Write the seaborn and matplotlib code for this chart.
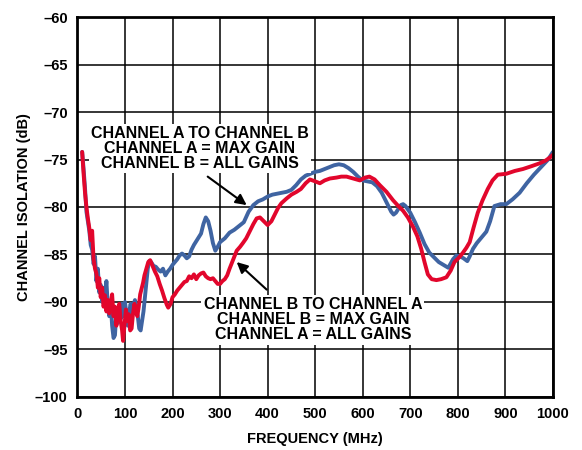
import matplotlib
matplotlib.use("Agg")
import matplotlib.pyplot as plt
import pandas as pd
import seaborn as sns

# frequency (MHz) / isolation (dB)
freq_ab = [10, 13, 16, 19, 22, 25, 28, 31, 34, 37, 40, 43, 46, 49, 52, 55, 58, 61, 64, 67,
           70, 73, 76, 79, 82, 85, 88, 91, 94, 97, 100, 103, 106, 109, 112, 115, 118, 121, 124, 127,
           130, 133, 136, 139, 142, 145, 148, 151, 155, 160, 165, 170, 175, 180, 185, 190, 195, 200,
           205, 210, 215, 220, 225, 230, 235, 240, 245, 250, 255, 260, 265, 270, 275, 280, 285, 290,
           295, 300, 310, 320, 330, 340, 350, 360, 370, 380, 390, 400, 410, 420, 430, 440, 450, 460,
           470, 480, 490, 500, 510, 520, 530, 540, 550, 560, 570, 580, 590, 600, 610, 620, 630, 640,
           650, 660, 665, 670, 680, 685, 690, 700, 710, 720, 730, 740, 750, 760, 770, 780, 790, 797,
           805, 812, 820, 825, 832, 840, 850, 860, 868, 877, 890, 902, 915, 930, 945, 960, 975, 990, 1000]
iso_ab = [-74.2, -76.0, -78.0, -80.5, -81.5, -82.5, -84.0, -84.5, -86.0, -85.2, -87.8, -86.5, -89.0,
          -88.2, -90.0, -88.5, -89.5, -87.8, -90.5, -91.5, -90.0, -92.5, -93.8, -93.5, -91.0, -92.2,
          -90.5, -91.8, -90.2, -91.5, -90.0, -91.2, -92.5, -91.0, -90.2, -91.5, -90.3, -89.8, -90.5,
          -91.5, -92.8, -93.0, -92.0, -91.0, -89.5, -88.0, -86.5, -85.7, -85.8, -86.2, -86.3, -86.6,
          -86.8, -86.5, -87.2, -86.8, -86.5, -86.1, -85.8, -85.5, -85.1, -84.9, -85.1, -85.4, -85.2,
          -84.5, -84.0, -83.6, -83.2, -82.8, -81.8, -81.1, -81.5, -82.5, -83.8, -84.6, -84.2, -83.7,
          -83.3, -82.7, -82.4, -82.0, -81.6, -80.5, -79.8, -79.4, -79.2, -78.9, -78.7, -78.6, -78.5,
          -78.4, -78.2, -77.7, -77.1, -76.7, -76.5, -76.3, -76.2, -76.0, -75.8, -75.6, -75.5, -75.6,
          -75.9, -76.3, -76.8, -77.2, -77.3, -77.4, -77.8, -78.5, -79.5, -80.5, -80.8, -80.6, -79.8,
          -79.7, -79.9, -80.6, -81.6, -82.7, -83.9, -84.8, -85.3, -85.8, -86.1, -86.4, -85.5, -85.1,
          -85.2, -85.4, -85.7, -85.2, -84.4, -83.8, -83.2, -82.6, -81.5, -79.9, -79.7, -79.7, -79.2,
          -78.5, -77.5, -76.6, -75.8, -75.0, -74.2]

freq_ba = [10, 13, 16, 19, 22, 25, 28, 31, 34, 37, 40, 43, 46, 49, 52, 55, 58, 61, 64, 67,
           70, 73, 76, 79, 82, 85, 88, 91, 94, 96, 99, 102, 105, 108, 111, 114, 117, 120, 123, 126,
           129, 132, 135, 138, 141, 145, 149, 153, 158, 163, 168, 173, 178, 183, 188, 191, 196, 200,
           205, 210, 215, 220, 225, 230, 235, 240, 245, 250, 255, 260, 265, 270, 275, 280, 285, 290,
           295, 300, 305, 310, 315, 320, 328, 335, 342, 348, 355, 362, 370, 377, 384, 392, 400, 408,
           415, 422, 429, 440, 450, 461, 470, 480, 489, 500, 510, 520, 531, 545, 555, 566, 580, 594,
           605, 614, 625, 636, 650, 664, 675, 685, 695, 706, 715, 723, 730, 737, 745, 755, 765, 776,
           785, 793, 803, 811, 818, 825, 833, 842, 852, 863, 873, 884, 902, 920, 937, 955, 972, 985,
           996, 1000]
iso_ba = [-74.2, -76.5, -78.5, -80.0, -81.2, -82.2, -83.5, -82.5, -85.5, -86.5, -87.0, -88.5, -87.5,
          -89.5, -88.5, -90.5, -89.3, -91.0, -89.8, -91.2, -90.0, -89.2, -91.5, -90.5, -92.5, -91.0,
          -90.2, -92.0, -93.0, -94.1, -92.5, -90.8, -92.0, -91.3, -93.0, -92.8, -91.2, -90.2, -91.0,
          -91.5, -90.5, -89.2, -88.6, -88.0, -87.2, -86.5, -85.8, -85.6, -86.2, -86.8, -87.3, -88.1,
          -88.8, -89.6, -90.3, -90.6, -90.2, -89.5, -89.2, -88.8, -88.5, -88.2, -87.9, -87.8, -87.3,
          -87.5, -87.1, -87.6, -87.2, -87.0, -86.9, -87.3, -87.5, -87.6, -87.5, -87.8, -88.1, -88.1,
          -87.8, -87.6, -87.2, -86.5, -85.5, -84.6, -84.2, -83.8, -83.3, -82.6, -81.8, -81.2, -81.1,
          -81.5, -81.9, -81.5, -80.8, -80.1, -79.6, -79.1, -78.7, -78.4, -78.1, -77.5, -77.1, -77.3,
          -77.5, -77.2, -77.0, -76.9, -76.8, -76.8, -77.0, -77.2, -76.9, -76.8, -77.1, -77.7, -78.4,
          -79.3, -79.9, -80.4, -81.1, -82.1, -83.1, -84.4, -85.8, -87.1, -87.6, -87.7, -87.6, -87.4,
          -86.7, -85.8, -85.3, -84.8, -84.3, -83.7, -82.2, -80.6, -79.3, -78.1, -77.2, -76.6, -76.5,
          -76.2, -76.0, -75.7, -75.4, -75.1, -74.7, -74.5]

x_ticks = [0, 100, 200, 300, 400, 500, 600, 700, 800, 900, 1000]
y_ticks = [-100, -95, -90, -85, -80, -75, -70, -65, -60]
y_tick_labels = ["\u2013100", "\u201395", "\u201390", "\u201385", "\u201380",
                 "\u201375", "\u201370", "\u201365", "\u201360"]

label_ab = "CHANNEL A TO CHANNEL B\nCHANNEL A = MAX GAIN\nCHANNEL B = ALL GAINS"
label_ba = "CHANNEL B TO CHANNEL A\nCHANNEL B = MAX GAIN\nCHANNEL A = ALL GAINS"

BLUE = "#3F64A2"
RED = "#E2062C"


def main():
    data = pd.concat([
        pd.DataFrame({"freq": freq_ab, "iso": iso_ab, "path": "A to B"}),
        pd.DataFrame({"freq": freq_ba, "iso": iso_ba, "path": "B to A"}),
    ], ignore_index=True)

    sns.set_theme(style="white")
    plt.rcParams["font.family"] = ["Liberation Sans", "DejaVu Sans"]
    plt.rcParams["font.weight"] = "bold"
    plt.rcParams["text.color"] = "black"
    plt.rcParams["axes.labelcolor"] = "black"

    fig = plt.figure(figsize=(5.82, 4.5), dpi=100)
    ax = fig.add_axes([0.133, 0.118, 0.817, 0.844])

    sns.lineplot(
        data=data, x="freq", y="iso", hue="path",
        palette={"A to B": BLUE, "B to A": RED},
        estimator=None, sort=False, legend=False, linewidth=2.8, ax=ax,
    )

    ax.set_xlim(0, 1000)
    ax.set_ylim(-100, -60)
    ax.set_xticks(x_ticks)
    ax.set_yticks(y_ticks)
    ax.set_yticklabels(y_tick_labels)
    ax.tick_params(length=0, labelsize=10.5, colors="black", pad=7)
    for lbl in ax.get_xticklabels() + ax.get_yticklabels():
        lbl.set_fontweight("bold")

    ax.grid(True, color="black", linewidth=1.1)
    ax.set_axisbelow(True)
    for spine in ax.spines.values():
        spine.set_color("black")
        spine.set_linewidth(2.0)

    ax.set_xlabel("FREQUENCY (MHz)", fontsize=10.5, fontweight="bold", labelpad=8)
    ax.set_ylabel("CHANNEL ISOLATION (dB)", fontsize=10.5, fontweight="bold", labelpad=3)

    box = dict(facecolor="white", edgecolor="none", pad=1.5)
    arrow = dict(arrowstyle="-|>", color="black", linewidth=1.5, mutation_scale=16,
                 shrinkA=0, shrinkB=0)
    ax.text(257, -73.8, label_ab, ha="center", va="center", fontsize=11.5,
            fontweight="bold", linespacing=1.0, bbox=box)
    ax.annotate("", xy=(356, -79.8), xytext=(274, -76.8), arrowprops=arrow)
    ax.text(495, -91.9, label_ba, ha="center", va="center", fontsize=11.5,
            fontweight="bold", linespacing=1.0, bbox=box)
    ax.annotate("", xy=(335, -85.8), xytext=(398, -88.7), arrowprops=arrow)

    fig.savefig("out.png", dpi=100)
    plt.close(fig)


if __name__ == "__main__":
    main()
